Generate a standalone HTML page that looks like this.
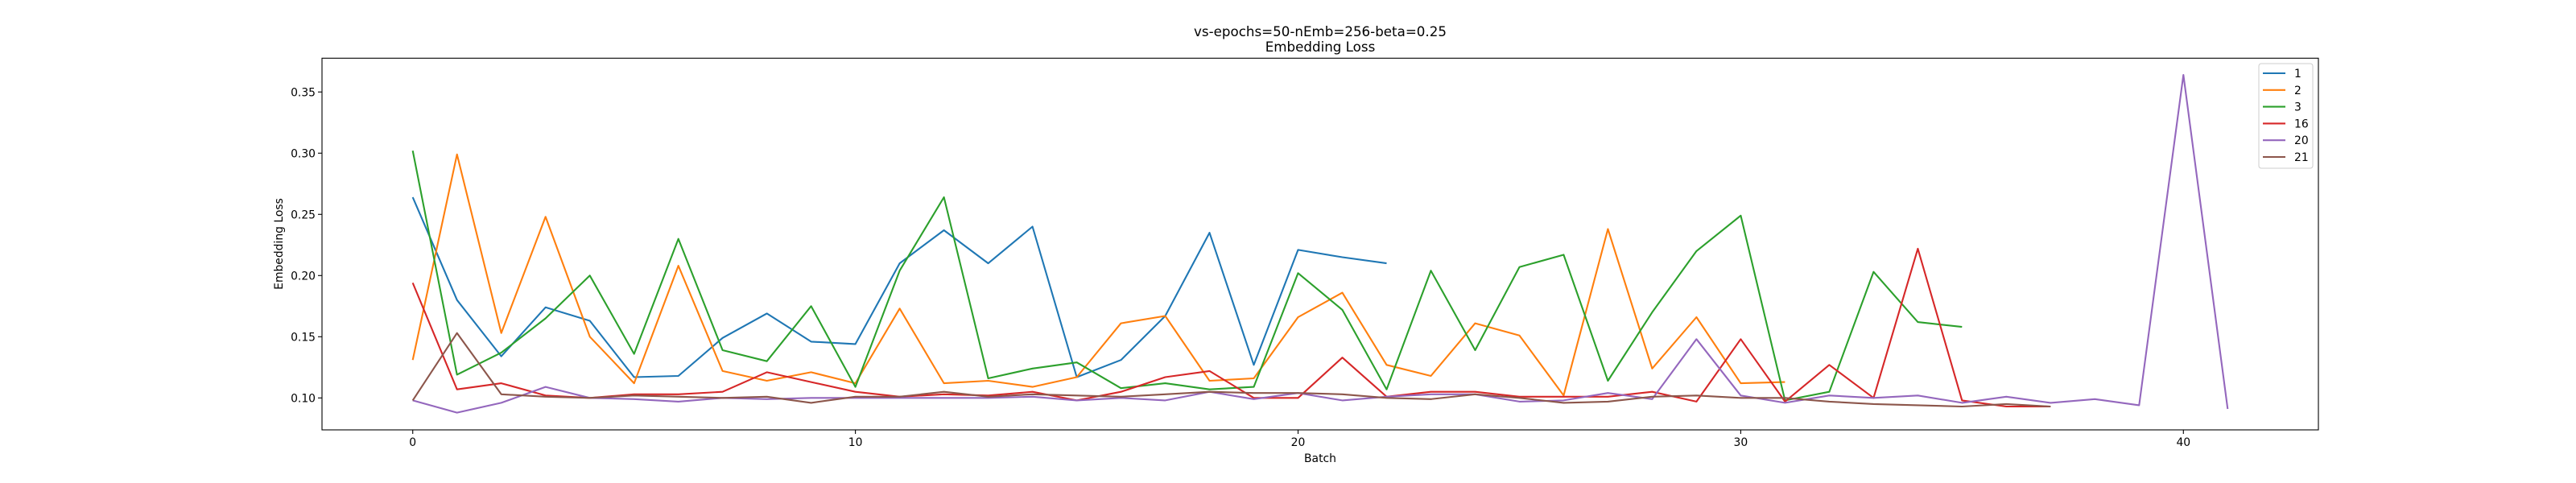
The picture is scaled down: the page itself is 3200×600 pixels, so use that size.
<!DOCTYPE html>
<html><head><meta charset="utf-8"><style>
html,body{margin:0;padding:0;background:#fff}
svg{display:block;font-family:"DejaVu Sans","Liberation Sans",sans-serif}
</style></head><body>
<svg id="chart" width="3200" height="600" viewBox="0 0 3200 600" xmlns="http://www.w3.org/2000/svg">
<rect x="0" y="0" width="3200" height="600" fill="#fff"/>
<text x="1640" y="45" font-size="16.7" text-anchor="middle">vs-epochs=50-nEmb=256-beta=0.25</text>
<text x="1640" y="64" font-size="16.7" text-anchor="middle">Embedding Loss</text>
<g id="plot"></g>
<text x="1640" y="574" font-size="13.9" text-anchor="middle">Batch</text>
<text x="0" y="0" font-size="13.9" text-anchor="middle" transform="translate(351,303) rotate(-90)">Embedding Loss</text>
</svg>
<script>
const seriesNames = ["1","2","3","16","20","21"];
const seriesColors = ["#1f77b4","#ff7f0e","#2ca02c","#d62728","#9467bd","#8c564b"];
const s1 = [0.264,0.180,0.134,0.174,0.163,0.117,0.118,0.149,0.169,0.146,0.144,0.210,0.237,0.210,0.240,0.117,0.131,0.167,0.235,0.127,0.221,0.215,0.210];
const s2 = [0.131,0.299,0.153,0.248,0.150,0.112,0.208,0.122,0.114,0.121,0.112,0.173,0.112,0.114,0.109,0.117,0.161,0.167,0.114,0.116,0.166,0.186,0.127,0.118,0.161,0.151,0.102,0.238,0.124,0.166,0.112,0.113];
const s3 = [0.302,0.119,0.137,0.165,0.200,0.136,0.230,0.139,0.130,0.175,0.109,0.204,0.264,0.116,0.124,0.129,0.108,0.112,0.107,0.109,0.202,0.172,0.107,0.204,0.139,0.207,0.217,0.114,0.170,0.220,0.249,0.098,0.105,0.203,0.162,0.158];
const s16 = [0.194,0.107,0.112,0.102,0.100,0.103,0.103,0.105,0.121,0.113,0.105,0.101,0.103,0.102,0.105,0.098,0.105,0.117,0.122,0.100,0.100,0.133,0.101,0.105,0.105,0.101,0.101,0.101,0.105,0.097,0.148,0.097,0.127,0.100,0.222,0.098,0.093,0.093];
const s20 = [0.098,0.088,0.096,0.109,0.100,0.099,0.097,0.100,0.099,0.100,0.100,0.100,0.100,0.100,0.101,0.098,0.100,0.098,0.105,0.099,0.104,0.098,0.101,0.103,0.103,0.097,0.098,0.104,0.099,0.148,0.102,0.096,0.102,0.100,0.102,0.096,0.101,0.096,0.099,0.094,0.364,0.091];
const s21 = [0.098,0.153,0.103,0.101,0.100,0.102,0.101,0.100,0.101,0.096,0.101,0.101,0.105,0.101,0.103,0.102,0.101,0.103,0.105,0.104,0.104,0.103,0.100,0.099,0.103,0.100,0.096,0.097,0.101,0.102,0.100,0.100,0.097,0.095,0.094,0.093,0.095,0.093];
const xTicks = [0,10,20,30,40];
const yTicks = [0.10,0.15,0.20,0.25,0.30,0.35];
const yTickLabels = ["0.10","0.15","0.20","0.25","0.30","0.35"];

const L=400,R=2880,T=72.3,B=534;
const xMin=-2.05,xMax=43.05,yMin=0.0739,yMax=0.3776;
function xs(v){return L+(v-xMin)/(xMax-xMin)*(R-L);}
function ys(v){return B-(v-yMin)/(yMax-yMin)*(B-T);}
const NS="http://www.w3.org/2000/svg";
const g=document.getElementById('plot');
function mk(tag,attrs,parent){const e=document.createElementNS(NS,tag);for(const k in attrs)e.setAttribute(k,attrs[k]);(parent||g).appendChild(e);return e;}

const allSeries=[s1,s2,s3,s16,s20,s21];
allSeries.forEach((arr,si)=>{
  const pts=arr.map((v,i)=>xs(i).toFixed(1)+","+ys(v).toFixed(1)).join(" ");
  const pl=mk('polyline',{points:pts,fill:'none',stroke:seriesColors[si],'stroke-width':2.1,'stroke-linejoin':'round'});
  
  
});

const frame=mk('rect',{x:L,y:T,width:R-L,height:B-T,fill:'none',stroke:'#000','stroke-width':1.1});



xTicks.forEach(t=>{
  const x=xs(t);
  const tk=mk('line',{x1:x,y1:B,x2:x,y2:B+5,stroke:'#000','stroke-width':1.1});
  
  
  const tx=mk('text',{x:x,y:B+20,'font-size':13.9,'text-anchor':'middle'});
  tx.textContent=String(t);
  
  
});
yTicks.forEach((t,i)=>{
  const y=ys(t);
  const tk=mk('line',{x1:L-5,y1:y,x2:L,y2:y,stroke:'#000','stroke-width':1.1});
  
  
  const tx=mk('text',{x:L-8,y:y+5,'font-size':13.9,'text-anchor':'end'});
  tx.textContent=yTickLabels[i];
  
  
});

const lg=mk('g',{});


mk('rect',{x:2806,y:79,width:67,height:130,rx:3,fill:'#fff','fill-opacity':0.8,stroke:'#ccc','stroke-width':1},lg);
seriesNames.forEach((n,i)=>{
  const y=91+i*20.8;
  const e=mk('g',{},lg);
  
  
  mk('line',{x1:2811,y1:y,x2:2839,y2:y,stroke:seriesColors[i],'stroke-width':2.1},e);
  const t=mk('text',{x:2850,y:y+5,'font-size':13.9},e);
  t.textContent=n;
});
</script>
</body></html>
